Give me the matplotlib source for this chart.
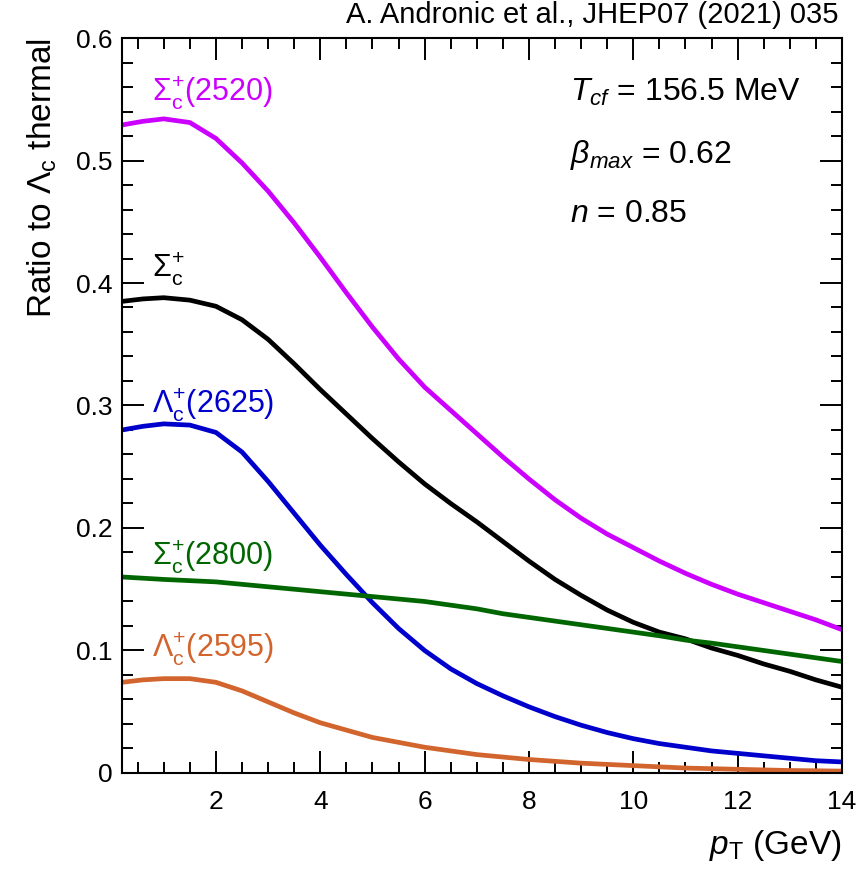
import matplotlib
matplotlib.use("Agg")
from matplotlib import pyplot as plt
from matplotlib.ticker import MultipleLocator

plt.rcParams["font.family"] = ["Liberation Sans", "DejaVu Sans"]
plt.rcParams["mathtext.fontset"] = "custom"
plt.rcParams["mathtext.rm"] = "Liberation Sans"
plt.rcParams["mathtext.it"] = "Liberation Sans:italic"
plt.rcParams["mathtext.bf"] = "Liberation Sans:bold"

# pT grid (GeV) and ratio to Lambda_c thermal
pt = [0.2, 0.6, 1.0, 1.5, 2.0, 2.5, 3.0, 3.5, 4.0, 4.5, 5.0, 5.5, 6.0, 6.5, 7.0,
      7.5, 8.0, 8.5, 9.0, 9.5, 10.0, 10.5, 11.0, 11.5, 12.0, 12.5, 13.0, 13.5, 14.0]
sigma_2520 = [0.529, 0.532, 0.534, 0.531, 0.518, 0.498, 0.475, 0.449, 0.421, 0.392,
              0.364, 0.338, 0.315, 0.296, 0.277, 0.258, 0.240, 0.223, 0.208, 0.195,
              0.184, 0.173, 0.163, 0.154, 0.146, 0.139, 0.132, 0.125, 0.117]
sigma_c = [0.385, 0.387, 0.388, 0.386, 0.381, 0.370, 0.354, 0.334, 0.313, 0.293,
           0.273, 0.254, 0.236, 0.220, 0.205, 0.189, 0.173, 0.158, 0.145, 0.133,
           0.123, 0.115, 0.1095, 0.102, 0.096, 0.089, 0.083, 0.076, 0.070]
lambda_2625 = [0.280, 0.283, 0.285, 0.284, 0.278, 0.262, 0.238, 0.212, 0.186, 0.162,
               0.139, 0.118, 0.100, 0.085, 0.073, 0.063, 0.054, 0.046, 0.039, 0.033,
               0.028, 0.024, 0.021, 0.018, 0.016, 0.014, 0.012, 0.010, 0.009]
sigma_2800 = [0.160, 0.159, 0.158, 0.157, 0.156, 0.154, 0.152, 0.150, 0.148, 0.146,
              0.144, 0.142, 0.140, 0.137, 0.134, 0.130, 0.127, 0.124, 0.121, 0.118,
              0.115, 0.112, 0.1085, 0.106, 0.103, 0.100, 0.097, 0.094, 0.091]
lambda_2595 = [0.074, 0.076, 0.077, 0.077, 0.074, 0.067, 0.058, 0.049, 0.041, 0.035,
               0.029, 0.025, 0.021, 0.018, 0.015, 0.013, 0.011, 0.0095, 0.008, 0.007,
               0.006, 0.005, 0.004, 0.0035, 0.003, 0.0025, 0.002, 0.0018, 0.0015]

xticks = [2, 4, 6, 8, 10, 12, 14]
yticks = [0, 0.1, 0.2, 0.3, 0.4, 0.5, 0.6]
ytick_labels = ["0", "0.1", "0.2", "0.3", "0.4", "0.5", "0.6"]

fig = plt.figure(figsize=(8.68, 8.74), dpi=100)
ax = fig.add_axes([0.1406, 0.1156, 0.8294, 0.8409])

ax.plot(pt, sigma_2520, color="#CC00FF", lw=3.4)
ax.plot(pt, sigma_c, color="black", lw=3.4)
ax.plot(pt, lambda_2625, color="#0000CC", lw=3.4)
ax.plot(pt, sigma_2800, color="#006600", lw=3.4)
ax.plot(pt, lambda_2595, color="#D2642D", lw=3.4)

ax.set_xlim(0.2, 14)
ax.set_ylim(0, 0.6)
ax.set_xticks(xticks)
ax.set_yticks(yticks)
ax.set_yticklabels(ytick_labels)
ax.xaxis.set_minor_locator(MultipleLocator(0.5))
ax.yaxis.set_minor_locator(MultipleLocator(0.02))
ax.tick_params(which="both", direction="in", top=True, right=True, width=1.4)
ax.tick_params(which="major", length=16, labelsize=19)
ax.tick_params(which="minor", length=8)
ax.tick_params(axis="x", which="major", pad=12)
ax.tick_params(axis="y", which="major", pad=7)
for s in ax.spines.values():
    s.set_linewidth(1.5)

ax.set_xlabel(r"$p_{\rm T}$ (GeV)", fontsize=24, loc="right", labelpad=10)
ax.set_ylabel(r"Ratio to $\Lambda_{\rm c}$ thermal", fontsize=24, loc="top", labelpad=12)

# curve labels
ax.text(0.78, 0.549, r"$\Sigma_{\rm c}^{+}$(2520)", color="#CC00FF", fontsize=22, va="baseline")
ax.text(0.78, 0.405, r"$\Sigma_{\rm c}^{+}$", color="black", fontsize=22, va="baseline")
ax.text(0.78, 0.294, r"$\Lambda_{\rm c}^{+}$(2625)", color="#0000CC", fontsize=22, va="baseline")
ax.text(0.78, 0.170, r"$\Sigma_{\rm c}^{+}$(2800)", color="#006600", fontsize=22, va="baseline")
ax.text(0.78, 0.095, r"$\Lambda_{\rm c}^{+}$(2595)", color="#D2642D", fontsize=22, va="baseline")

# model parameters
ax.text(8.79, 0.549, r"$T_{cf}$ = 156.5 MeV", fontsize=23, va="baseline")
ax.text(8.79, 0.498, r"$\beta_{max}$ = 0.62", fontsize=23, va="baseline")
ax.text(8.79, 0.450, r"$n$ = 0.85", fontsize=23, va="baseline")

fig.text(0.966, 0.983, "A. Andronic et al., JHEP07 (2021) 035", fontsize=21,
         ha="right", va="center")

plt.savefig("out.png", dpi=100)
